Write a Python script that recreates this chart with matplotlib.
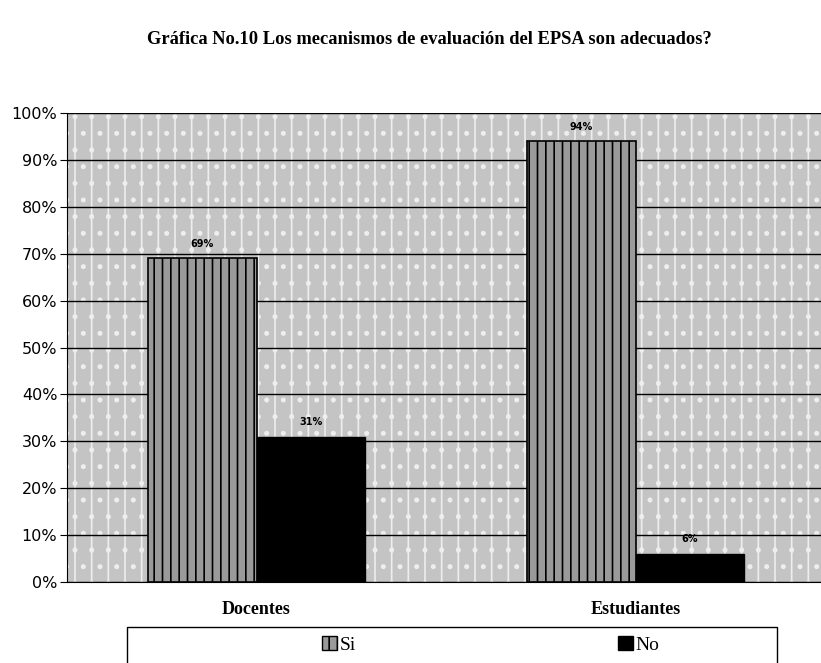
import numpy as np
import matplotlib
matplotlib.use('Agg')
import matplotlib.pyplot as plt
from matplotlib.patches import Rectangle

categories = ['Docentes', 'Estudiantes']
si_values = [69, 94]
no_values = [31, 6]
si_labels = ['69%', '94%']
no_labels = ['31%', '6%']
y_ticks = [0, 10, 20, 30, 40, 50, 60, 70, 80, 90, 100]

plt.rcParams['hatch.linewidth'] = 1.2

fig = plt.figure(figsize=(8.21, 6.63), dpi=100)
ax = fig.add_axes([67 / 821, 1 - 582 / 663, 758 / 821, 469 / 663])

# textured background of the plot area
ax.set_facecolor('#c4c4c4')
bg = Rectangle((0, 0), 1, 1, transform=ax.transAxes, facecolor='none',
               edgecolor='#eeeeee', hatch='|.', linewidth=0, zorder=0)
ax.add_patch(bg)

x = np.arange(len(categories))
w = 0.285

ax.bar(x - w / 2, si_values, width=w, color='#9a9a9a', edgecolor='black',
       hatch='||', linewidth=1.2, zorder=3)
ax.bar(x + w / 2, no_values, width=w, color='black', edgecolor='black',
       linewidth=1, zorder=3)

for i in range(len(categories)):
    ax.text(x[i] - w / 2, si_values[i] + 2, si_labels[i], ha='center',
            va='bottom', fontsize=7, fontweight='bold', zorder=5)
    ax.text(x[i] + w / 2, no_values[i] + 2, no_labels[i], ha='center',
            va='bottom', fontsize=7, fontweight='bold', zorder=5)

ax.set_xlim(-0.5, 1.5)
ax.set_ylim(0, 100)
ax.set_yticks(y_ticks)
ax.set_yticklabels([f'{t}%' for t in y_ticks], fontsize=11.5)
ax.yaxis.grid(True, color='black', linewidth=1)
ax.set_axisbelow(True)
ax.set_xticks(x)
ax.set_xticklabels(categories, fontsize=13, family='Liberation Serif',
                   fontweight='bold')
ax.tick_params(axis='x', length=0, pad=14)
ax.tick_params(axis='y', length=5, pad=2)
for s in ['top', 'right']:
    ax.spines[s].set_visible(False)

fig.text(429 / 821, 1 - 40 / 663,
         'Gráfica No.10 Los mecanismos de evaluación del EPSA son adecuados?',
         ha='center', va='center', fontsize=13.3, fontweight='bold',
         family='Liberation Serif')

# legend frame
fig.patches.append(Rectangle((127 / 821, -0.01), 650 / 821, 1 - 627 / 663 + 0.01,
                             transform=fig.transFigure, facecolor='white',
                             edgecolor='black', linewidth=1))
h1 = Rectangle((0, 0), 1, 1, facecolor='#9a9a9a', edgecolor='black', hatch='||')
h2 = Rectangle((0, 0), 1, 1, facecolor='black', edgecolor='black')
leg = fig.legend([h1, h2], ['Si', 'No'], ncol=2,
                 bbox_to_anchor=(322 / 821, 1 - 645 / 663),
                 loc='center left', frameon=False,
                 prop={'family': 'Liberation Serif', 'size': 14},
                 handlelength=0.75, handleheight=0.75, handletextpad=0.15,
                 columnspacing=13.5, borderpad=0, borderaxespad=0)

fig.savefig('out.png', dpi=100)
